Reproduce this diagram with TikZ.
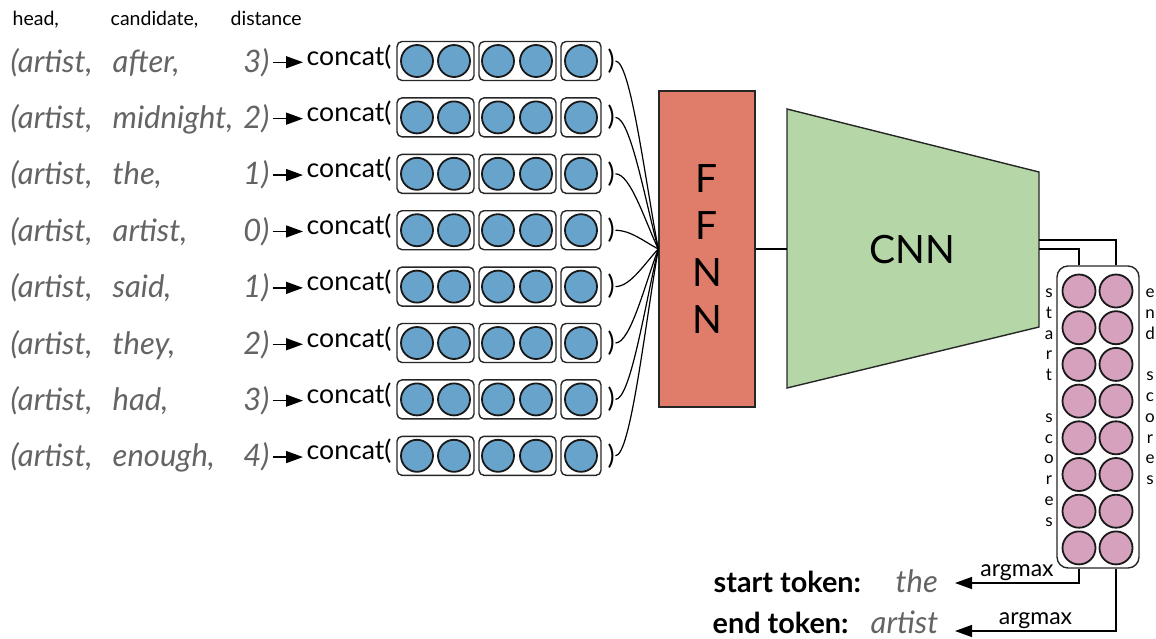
\documentclass[tikz,border=0pt]{standalone}
\usepackage{fontspec}
\setmainfont{Lato}
\usepackage{xcolor}
\usepackage{tikz}
\usetikzlibrary{arrows.meta, positioning, calc}
\definecolor{corAzul}{RGB}{104, 163, 203}
\definecolor{corRosa}{RGB}{213, 161, 189}
\definecolor{corSalmao}{RGB}{223, 124, 106}
\definecolor{corVerde}{RGB}{181, 215, 168}
\definecolor{corCinza}{RGB}{100, 100, 100}

\begin{document}
\begin{tikzpicture}[x=1pt, y=-1pt, line width=1.4pt,
    cabeca/.style={font=\fontsize{19.5}{22}\selectfont, anchor=base west, inner sep=0pt},
    palavra/.style={font=\fontsize{31}{36}\selectfont\itshape, text=corCinza, anchor=base west, inner sep=0pt},
    funcao/.style={font=\fontsize{26.6}{32}\selectfont, anchor=base west, inner sep=0pt},
    rotulo/.style={font=\fontsize{28.8}{34}\selectfont\bfseries, anchor=base west, inner sep=0pt},
    caixa/.style={draw=black!85, rounded corners=5pt, minimum height=39, line width=1.4pt},
    bola/.style={circle, draw=black!90, line width=1.8pt, minimum size=32, inner sep=0pt},
    seta/.style={-{Triangle[length=17pt, width=12pt]}},
    letras/.style={align=center, font=\fontsize{17}{20.8}\selectfont, inner sep=0pt, anchor=north},
    grande/.style={font=\fontsize{39}{47}\selectfont, align=center, inner sep=0pt}
]
\useasboundingbox (0,0) rectangle (1156,638);

% header
\node[cabeca] (hCab) at (12,25) {head,};
\node[cabeca] (cCab) at (110,25) {candidate,};
\node[cabeca] (dCab) at (230,25) {distance};

% FFNN and CNN
\node[draw=black!85, fill=corSalmao, minimum width=96, minimum height=316] (ffnn) at (707,249) {};
\node[grande] at (ffnn.center) {F\\F\\N\\N};
\coordinate (cnnA) at (787,109);
\coordinate (cnnB) at (1039,172);
\coordinate (cnnC) at (1039,327);
\coordinate (cnnD) at (787,388);
\draw[draw=black!85, fill=corVerde] (cnnA) -- (cnnB) -- (cnnC) -- (cnnD) -- cycle;
\node[grande] (cnn) at (912,250) {CNN};
\coordinate (cnnEnt) at (787,249);
\draw (ffnn.east) -- (cnnEnt);

% pairs
\foreach \cand/\dist [count=\i] in {after/3, midnight/2, the/1, artist/0, said/1, they/2, had/3, enough/4} {
  \pgfmathsetmacro\yc{61+56.4*(\i-1)}
  \node[palavra] (h\i) at (10,\yc+11) {(artist,};
  \node[palavra] (c\i) at (112,\yc+11) {\cand,};
  \node[palavra, anchor=base east] (d\i) at (270,\yc+11) {\dist)};
  \node[funcao] (k\i) at (306,\yc+4) {concat(};
  \draw[seta, shorten <=3pt, shorten >=3pt] (d\i.east) -- (d\i.east -| k\i.west);
  \node[caixa, minimum width=77] (a\i) at (435.5,\yc) {};
  \node[caixa, minimum width=77] (b\i) at (517.5,\yc) {};
  \node[caixa, minimum width=40] (g\i) at (581,\yc) {};
  \foreach \xb in {417,454,498,536,581}
    \node[bola, fill=corAzul] at (\xb,\yc) {};
  \node[funcao, anchor=west] (p\i) at (607,\yc) {)};
  \draw[line width=1.2pt] (p\i.east) .. controls +(15,0) and (645,{249+0.37*(\yc-249)}) .. (ffnn.west);
}

% scores
\node[draw=black!85, rounded corners=11pt, minimum width=82, minimum height=302] (scores) at (1098,417) {};
\foreach \j in {1,...,8} {
  \node[bola, fill=corRosa, minimum size=33] (s\j) at (1079,{291+36.7*(\j-1)}) {};
  \node[bola, fill=corRosa, minimum size=33] (e\j) at (1116,{291+36.7*(\j-1)}) {};
}
\node[letras] (sLet) at (1049,288) {s\\t\\a\\r\\t\\~\\s\\c\\o\\r\\e\\s};
\node[letras] (eLet) at (1150,288) {e\\n\\d\\~\\s\\c\\o\\r\\e\\s};

\coordinate (cnnSup) at (1039,240);
\coordinate (cnnInf) at (1039,249);
\draw (cnnSup) -| (scores.north -| e1);
\draw (cnnInf) -| (scores.north -| s1);

% output
\node[rotulo] (rotIni) at (713,592) {start token:};
\node[palavra] (tokIni) at (895,592) {the};
\node[rotulo] (rotFim) at (712,633) {end token:};
\node[palavra] (tokFim) at (870,633) {artist};
\coordinate (pontaIni) at (955,583);
\coordinate (pontaFim) at (955,631);
\draw[seta] (scores.south -| s8) |- node[pos=0.75, above, inner sep=2pt, font=\fontsize{23}{27}\selectfont] {argmax} (pontaIni);
\draw[seta] (scores.south -| e8) |- node[pos=0.75, above, inner sep=2pt, font=\fontsize{23}{27}\selectfont] {argmax} (pontaFim);
\end{tikzpicture}
\end{document}
